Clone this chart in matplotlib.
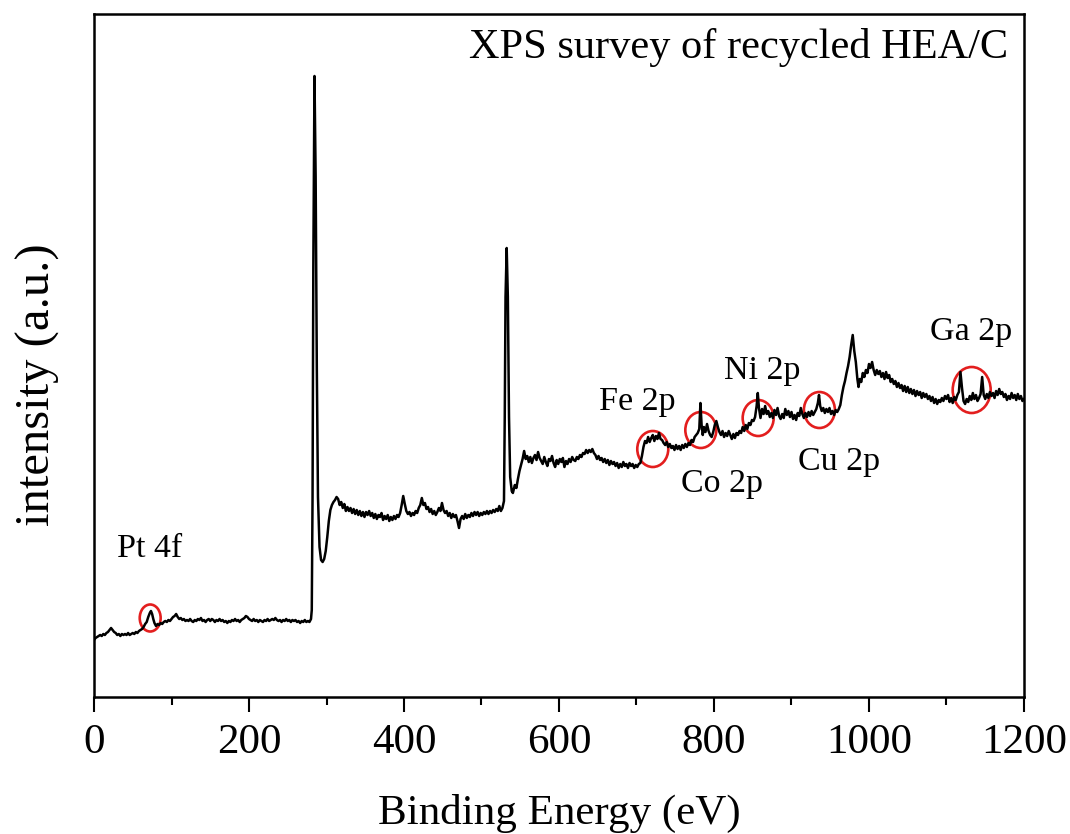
import matplotlib
matplotlib.use("Agg")
import matplotlib.pyplot as plt
from matplotlib.patches import Ellipse
from matplotlib.ticker import MultipleLocator

plt.rcParams["font.family"] = ["Liberation Serif", "DejaVu Serif"]

# XPS survey spectrum: binding energy (eV) and intensity (a.u.)
energy_ev = [
    0, 2, 4, 6, 8, 10, 12, 14, 16, 18,
    20, 22, 24, 26, 28, 30, 32, 34, 36, 38,
    40, 42, 44, 46, 48, 50, 52, 54, 56, 58,
    60, 62, 64, 66, 68, 70, 72, 73.5, 75, 76.5,
    78, 80, 82, 84, 86, 88, 90, 92, 94, 96,
    98, 100, 102, 104, 106, 108, 110, 112, 114, 116,
    118, 120, 122, 124, 126, 128, 130, 132, 134, 136,
    138, 140, 142, 144, 146, 148, 150, 152, 154, 156,
    158, 160, 162, 164, 166, 168, 170, 172, 174, 176,
    178, 180, 182, 184, 186, 188, 190, 192, 194, 196,
    198, 200, 202, 204, 206, 208, 210, 212, 214, 216,
    218, 220, 222, 224, 226, 228, 230, 232, 234, 236,
    238, 240, 242, 244, 246, 248, 250, 252, 254, 256,
    258, 260, 262, 264, 266, 268, 270, 272, 274, 276,
    278, 280, 281, 282, 283, 284.5, 286, 287.5, 289, 291,
    293, 295, 297, 299, 301, 303, 305, 307, 309, 311,
    313, 315, 317, 319, 321, 323, 325, 327, 329, 331,
    333, 335, 337, 339, 341, 343, 345, 347, 349, 351,
    353, 355, 357, 359, 361, 363, 365, 367, 369, 371,
    373, 375, 377, 379, 381, 383, 385, 387, 389, 391,
    393, 395, 397, 399, 401, 403, 405, 407, 409, 411,
    413, 415, 417, 419, 421, 423, 425, 427, 429, 431,
    433, 435, 437, 439, 441, 443, 445, 447, 449, 451,
    453, 455, 457, 459, 461, 463, 465, 467, 469, 471,
    473, 475, 477, 479, 481, 483, 485, 487, 489, 491,
    493, 495, 497, 499, 501, 503, 505, 507, 509, 511,
    513, 515, 517, 519, 521, 523, 525, 527, 529, 530,
    531, 532.5, 534, 535.5, 537, 539, 540.5, 543, 545, 547,
    549, 551, 553, 555, 557, 559, 561, 563, 565, 567,
    569, 571, 573, 575, 577, 579, 581, 583, 585, 587,
    589, 591, 593, 595, 597, 599, 601, 603, 605, 607,
    609, 611, 613, 615, 617, 619, 621, 623, 625, 627,
    629, 631, 633, 635, 637, 639, 641, 643, 645, 647,
    649, 651, 653, 655, 657, 659, 661, 663, 665, 667,
    669, 671, 673, 675, 677, 679, 681, 683, 685, 687,
    689, 691, 693, 695, 697, 699, 701, 703, 705, 707,
    709, 711, 713, 715, 717, 719, 721, 723, 725, 727,
    729, 731, 733, 735, 737, 739, 741, 743, 745, 747,
    749, 751, 753, 755, 757, 759, 761, 763, 765, 767,
    769, 771, 773, 775, 777, 779, 781, 782.5, 784, 785.5,
    787, 789, 791, 793, 795, 797, 799, 801, 803, 805,
    807, 809, 811, 813, 815, 817, 819, 821, 823, 825,
    827, 829, 831, 833, 835, 837, 839, 841, 843, 845,
    847, 849, 851, 853, 855, 856.5, 858, 860, 862, 864,
    866, 868, 870, 872, 874, 876, 878, 880, 882, 884,
    886, 888, 890, 892, 894, 896, 898, 900, 902, 904,
    906, 908, 910, 912, 914, 916, 918, 920, 922, 924,
    926, 928, 930, 932, 934, 935.5, 937, 939, 941, 943,
    945, 947, 949, 951, 953, 955, 957, 959, 961, 963,
    965, 967, 969, 971, 973, 975, 977, 979, 981, 983,
    985, 986.5, 988, 990, 992, 994, 996, 998, 1000, 1002,
    1004, 1006, 1008, 1010, 1012, 1014, 1016, 1018, 1020, 1022,
    1024, 1026, 1028, 1030, 1032, 1034, 1036, 1038, 1040, 1042,
    1044, 1046, 1048, 1050, 1052, 1054, 1056, 1058, 1060, 1062,
    1064, 1066, 1068, 1070, 1072, 1074, 1076, 1078, 1080, 1082,
    1084, 1086, 1088, 1090, 1092, 1094, 1096, 1098, 1100, 1102,
    1104, 1106, 1108, 1110, 1112, 1114, 1116, 1118, 1120, 1122,
    1124, 1126, 1128, 1130, 1132, 1134, 1136, 1138, 1140, 1142,
    1144, 1146, 1148, 1150, 1152, 1154, 1156, 1158, 1160, 1162,
    1164, 1166, 1168, 1170, 1172, 1174, 1176, 1178, 1180, 1182,
    1184, 1186, 1188, 1190, 1192, 1194, 1196, 1198, 1200,
]
intensity = [
    57, 59, 60, 61, 62, 61, 63, 62, 64, 65,
    67, 69, 67, 65, 64, 62, 63, 61, 63, 62,
    63, 62, 64, 62, 63, 64, 63, 65, 64, 66,
    67, 68, 70, 73, 75, 80, 84, 86, 83, 78,
    74, 71, 73, 72, 74, 73, 75, 76, 75, 77,
    76, 78, 80, 81, 83, 80, 78, 79, 77, 78,
    76, 77, 76, 78, 76, 75, 77, 76, 78, 77,
    79, 76, 77, 75, 77, 78, 76, 78, 77, 75,
    77, 76, 78, 76, 77, 75, 76, 74, 76, 75,
    77, 76, 78, 76, 77, 75, 77, 78, 79, 81,
    80, 78, 77, 76, 78, 76, 77, 75, 77, 76,
    75, 77, 76, 78, 76, 77, 78, 77, 79, 77,
    76, 77, 75, 77, 76, 78, 76, 77, 75, 77,
    76, 77, 75, 76, 74, 76, 75, 77, 75, 76,
    75, 78, 87, 200, 430, 621, 520, 330, 200, 150,
    137, 135, 138, 146, 160, 176, 187, 192, 195, 197,
    200, 198, 192, 195, 189, 193, 186, 190, 186, 189,
    184, 188, 183, 187, 182, 186, 181, 185, 180, 185,
    182, 186, 181, 184, 179, 183, 178, 182, 180, 184,
    177, 181, 178, 182, 176, 180, 177, 181, 178, 182,
    180, 184, 192, 201, 193, 186, 183, 185, 181, 184,
    182, 186, 184, 189, 192, 199, 192, 194, 188, 190,
    185, 188, 183, 186, 182, 185, 189, 186, 194, 187,
    184, 186, 181, 184, 179, 183, 180, 182, 176, 169,
    178, 181, 178, 183, 179, 182, 180, 184, 181, 185,
    182, 185, 181, 184, 182, 185, 183, 186, 183, 186,
    184, 187, 185, 188, 186, 191, 186, 189, 196, 280,
    400, 449, 400, 280, 220, 206, 204, 212, 209, 218,
    226, 232, 238, 246, 238, 241, 235, 240, 234, 239,
    242, 237, 245, 239, 236, 233, 240, 235, 231, 238,
    236, 241, 234, 230, 237, 233, 238, 235, 239, 230,
    236, 233, 238, 235, 240, 237, 236, 240, 238, 242,
    240, 244, 243, 247, 244, 247, 245, 248, 244, 242,
    238, 241, 237, 239, 235, 238, 234, 237, 232, 236,
    233, 235, 231, 234, 229, 233, 230, 235, 231, 233,
    229, 234, 231, 233, 229, 232, 230, 233, 234, 241,
    250, 256, 254, 260, 255, 259, 262, 256, 261, 258,
    264, 258, 257, 254, 252, 255, 250, 253, 249, 251,
    247, 252, 248, 251, 247, 252, 249, 253, 250, 254,
    252, 257, 255, 260, 262, 264, 268, 294, 272, 262,
    270, 265, 273, 266, 262, 260, 265, 272, 276, 270,
    265, 262, 266, 260, 264, 261, 266, 262, 258, 263,
    259, 264, 262, 266, 264, 270, 266, 272, 268, 274,
    272, 277, 276, 280, 291, 304, 289, 279, 288, 283,
    291, 283, 286, 280, 284, 279, 287, 282, 289, 281,
    278, 283, 279, 288, 282, 286, 280, 285, 278, 282,
    277, 284, 281, 289, 283, 279, 284, 280, 285, 281,
    286, 282, 285, 288, 294, 302, 291, 286, 289, 284,
    288, 285, 289, 283, 286, 282, 287, 285, 288, 292,
    302, 310, 316, 324, 331, 340, 352, 362, 346, 335,
    318, 310, 318, 315, 324, 320, 327, 324, 333, 329,
    335, 327, 322, 327, 323, 326, 320, 324, 318, 325,
    319, 322, 315, 318, 313, 316, 310, 314, 309, 312,
    306, 311, 305, 310, 304, 308, 303, 307, 301, 306,
    302, 305, 299, 304, 300, 303, 298, 301, 296, 300,
    294, 298, 293, 297, 295, 299, 296, 301, 298, 302,
    295, 299, 294, 300, 297, 302, 305, 325, 309, 296,
    293, 298, 295, 301, 297, 304, 298, 302, 296, 299,
    303, 320, 302, 298, 303, 299, 305, 301, 304, 299,
    306, 302, 308, 303, 305, 300, 303, 297, 301, 298,
    304, 299, 302, 297, 303, 298, 301, 296, 298,
]

# Element regions marked on the spectrum
peak_labels = ["Pt 4f", "Fe 2p", "Co 2p", "Ni 2p", "Cu 2p", "Ga 2p"]
peak_centers_ev = [72.5, 721, 783, 857, 936, 1132.5]
peak_centers_int = [79, 248, 267, 279, 287, 307]

# marker ellipse sizes (eV, a.u.) and label anchor points
ring_w = [27, 40, 40, 40, 40, 49]
ring_h = [27, 36, 36, 36, 36, 46]
label_x = [72, 701, 810, 862, 961, 1132]
label_y = [140, 287, 205, 318, 227, 357]

fig = plt.figure(figsize=(10.70, 8.34), dpi=100)
ax = fig.add_axes([94 / 1070, 1 - 697 / 834, (1024 - 94) / 1070, (697 - 14) / 834])

ax.plot(energy_ev, intensity, color="black", lw=1.8, solid_joinstyle="round")

for cx, cy, w, h in zip(peak_centers_ev, peak_centers_int, ring_w, ring_h):
    ax.add_patch(Ellipse((cx, cy), w, h, fill=False, edgecolor="#e31e1e", lw=1.9))

for txt, lx, ly in zip(peak_labels, label_x, label_y):
    ax.text(lx, ly, txt, fontsize=24.5, ha="center", va="baseline")

ax.text(0.983, 0.935, "XPS survey of recycled HEA/C", transform=ax.transAxes,
        fontsize=30.5, ha="right", va="baseline")

ax.set_xlim(0, 1200)
ax.set_ylim(0, 683)
ax.xaxis.set_major_locator(MultipleLocator(200))
ax.xaxis.set_minor_locator(MultipleLocator(100))
ax.tick_params(axis="x", which="major", direction="out", length=11, width=1.5,
               labelsize=31, pad=8, top=False)
ax.tick_params(axis="x", which="minor", direction="out", length=6, width=1.5, top=False)
ax.tick_params(axis="y", which="both", left=False, right=False, labelleft=False)
for sp in ax.spines.values():
    sp.set_linewidth(1.8)

ax.set_xlabel("Binding Energy (eV)", fontsize=31, labelpad=23)
ax.set_ylabel("intensity (a.u.)", fontsize=35, va="center")
ax.yaxis.set_label_coords(-0.060, 0.457)

fig.savefig("out.png", dpi=100)
